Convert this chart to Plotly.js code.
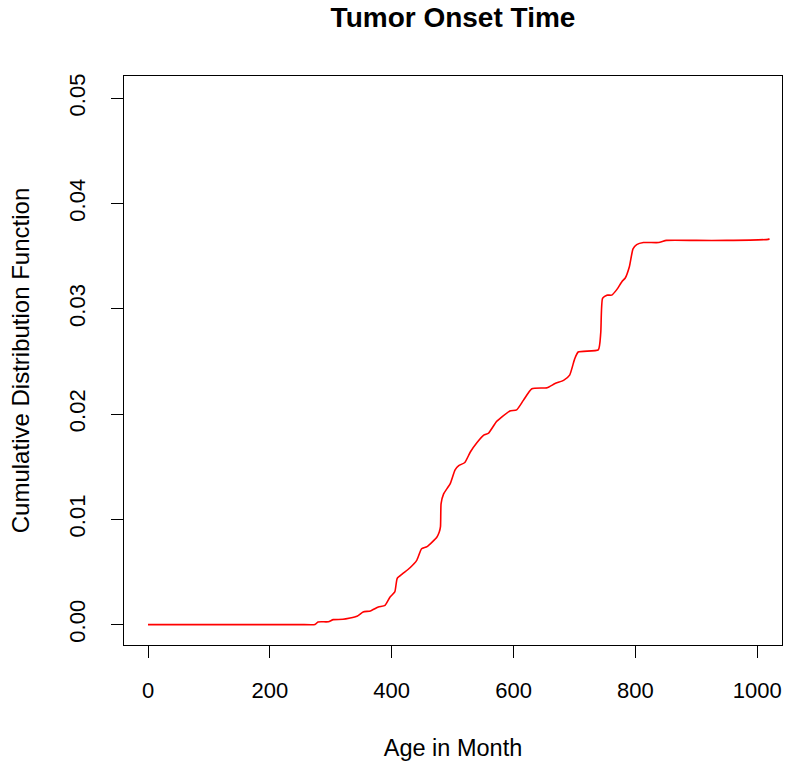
<!DOCTYPE html>
<html>
<head>
<meta charset="utf-8">
<script src="https://cdn.plot.ly/plotly-3.0.1.min.js"></script>
<style>html,body{margin:0;padding:0;background:#fff;}#chart{width:787px;height:767px;}</style>
</head>
<body>
<div id="chart"></div>
<script>
const ageMonths = [0, 100, 200, 250, 274, 279, 296, 304, 320, 343, 353, 365, 378, 389, 397, 405, 409, 417, 430, 441, 449, 458, 474, 478, 480, 481, 485, 496, 504, 510, 520, 529, 540, 551, 559, 572, 578, 594, 605, 616, 630, 655, 668, 682, 692, 700, 706, 739, 743, 746, 753, 761, 769, 778, 783, 790, 796, 802, 813, 838, 851, 900, 950, 1018, 1020];
const cdfValues = [0, 0, 0, 0, 0, 0.00025, 0.00027, 0.00047, 0.0005, 0.00079, 0.0012, 0.0013, 0.00167, 0.00183, 0.0026, 0.0031, 0.0044, 0.0048, 0.0054, 0.0061, 0.0072, 0.0074, 0.0083, 0.0088, 0.0093, 0.0115, 0.0124, 0.0134, 0.0147, 0.0151, 0.0154, 0.0164, 0.0173, 0.0180, 0.0182, 0.0193, 0.0196, 0.0203, 0.0204, 0.0213, 0.0224, 0.0225, 0.0229, 0.0232, 0.0237, 0.0252, 0.0259, 0.0261, 0.0277, 0.0310, 0.0313, 0.0313, 0.0318, 0.0326, 0.0329, 0.0340, 0.0357, 0.0361, 0.0363, 0.0363, 0.0365, 0.0365, 0.0365, 0.0366, 0.03665];
const xTicks = [0, 200, 400, 600, 800, 1000];
const yTicks = [0, 0.01, 0.02, 0.03, 0.04, 0.05];
const yTickLabels = ["0.00", "0.01", "0.02", "0.03", "0.04", "0.05"];

const FONT = "Liberation Sans, Arial, Helvetica, sans-serif";

const trace = {
  x: ageMonths,
  y: cdfValues,
  type: "scatter",
  mode: "lines",
  line: {color: "#ff0000", width: 1.6, shape: "spline", smoothing: 0.5},
  hoverinfo: "x+y"
};

const layout = {
  width: 787,
  height: 767,
  margin: {l: 124, r: 5, t: 76, b: 122, pad: 0},
  paper_bgcolor: "#ffffff",
  plot_bgcolor: "#ffffff",
  showlegend: false,
  font: {family: FONT, size: 22, color: "#000000"},
  title: {
    text: "<b>Tumor Onset Time</b>",
    font: {family: FONT, size: 28, color: "#000000"},
    x: 0.5, xanchor: "center", xref: "paper",
    y: 0.977, yanchor: "middle", yref: "container"
  },
  xaxis: {
    range: [-39.4, 1040.5],
    tickvals: xTicks,
    ticktext: xTicks.map(String),
    ticks: "outside",
    ticklen: 12,
    tickwidth: 1,
    tickcolor: "#000000",
    ticklabelstandoff: 14,
    showline: true,
    linecolor: "#000000",
    linewidth: 1,
    mirror: true,
    showgrid: false,
    zeroline: false,
    tickfont: {family: FONT, size: 22, color: "#000000"},
    title: {text: "Age in Month", font: {family: FONT, size: 23.5, color: "#000000"}, standoff: 37}
  },
  yaxis: {
    range: [-0.00194, 0.05212],
    tickvals: yTicks,
    ticktext: yTickLabels,
    tickangle: -90,
    ticks: "outside",
    ticklen: 12,
    tickwidth: 1,
    tickcolor: "#000000",
    ticklabelstandoff: 17,
    showline: true,
    linecolor: "#000000",
    linewidth: 1,
    mirror: true,
    showgrid: false,
    zeroline: false,
    tickfont: {family: FONT, size: 22, color: "#000000"},
    title: {text: "Cumulative Distribution Function", font: {family: FONT, size: 24, color: "#000000"}, standoff: 28}
  }
};

Plotly.newPlot("chart", [trace], layout, {displayModeBar: false});
</script>
</body>
</html>
